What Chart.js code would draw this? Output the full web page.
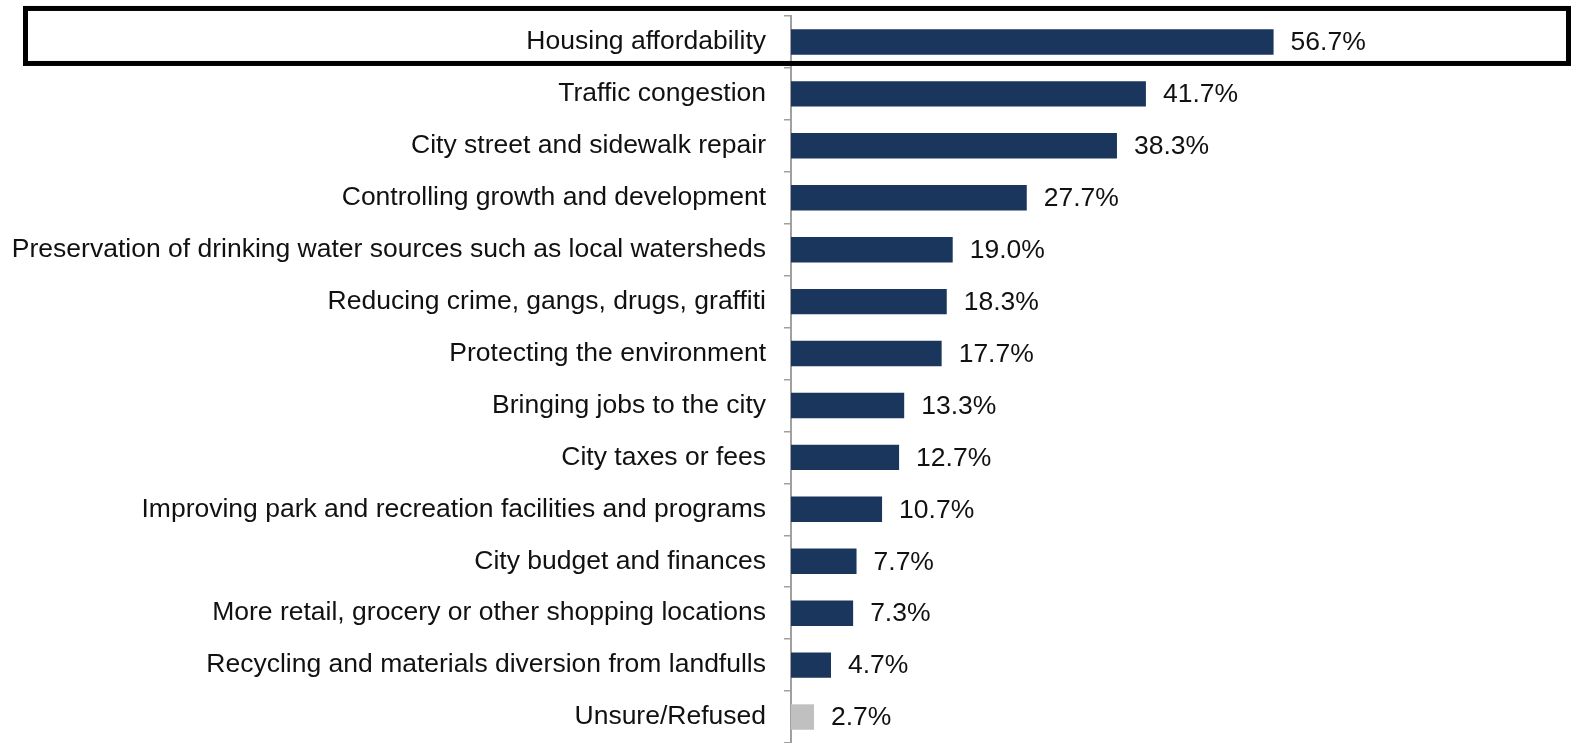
<!DOCTYPE html>
<html>
<head>
<meta charset="utf-8">
<script src="https://cdn.jsdelivr.net/npm/chart.js@4"></script>
<style>
  html, body { margin: 0; padding: 0; background: #fff; }
  #wrap { width: 1575px; height: 743px; }
</style>
</head>
<body>
<div id="wrap"><canvas id="issues"></canvas></div>
<script>
const categories = [
  'Housing affordability',
  'Traffic congestion',
  'City street and sidewalk repair',
  'Controlling growth and development',
  'Preservation of drinking water sources such as local watersheds',
  'Reducing crime, gangs, drugs, graffiti',
  'Protecting the environment',
  'Bringing jobs to the city',
  'City taxes or fees',
  'Improving park and recreation facilities and programs',
  'City budget and finances',
  'More retail, grocery or other shopping locations',
  'Recycling and materials diversion from landfulls',
  'Unsure/Refused'
]
const percents = [56.7, 41.7, 38.3, 27.7, 19.0, 18.3, 17.7, 13.3, 12.7, 10.7, 7.7, 7.3, 4.7, 2.7]

const navy = '#1b365d'
const grey = '#c0c0c0'
const fontFamily = 'Arial, "Liberation Sans", sans-serif'
const fontSize = 26.5

// draws "xx.x%" to the right of each bar
const valueLabels = {
  id: 'valueLabels',
  afterDatasetsDraw(chart) {
    const ctx = chart.ctx
    const meta = chart.getDatasetMeta(0)
    ctx.save()
    ctx.font = `${fontSize}px ${fontFamily}`
    ctx.fillStyle = '#111'
    ctx.textAlign = 'left'
    ctx.textBaseline = 'middle'
    meta.data.forEach((bar, i) => {
      const v = chart.data.datasets[0].data[i]
      ctx.fillText(v.toFixed(1) + '%', bar.x + 17, bar.y + 1)
    })
    ctx.restore()
  }
}

// black box around the top item
const highlight = {
  id: 'highlight',
  afterDraw(chart) {
    const ctx = chart.ctx
    const y0 = chart.scales.y.getPixelForValue(0)
    ctx.save()
    ctx.strokeStyle = '#000'
    ctx.lineWidth = 5
    ctx.strokeRect(25.5, y0 - 33.5, 1543, 55)
    ctx.restore()
  }
}

function initChart() {
  const ctx = document.getElementById('issues').getContext('2d')

  const chart = new Chart(ctx, {
    type: 'bar',
    data: {
      labels: categories,
      datasets: [{
        data: percents,
        backgroundColor: percents.map((v, i) => i === percents.length - 1 ? grey : navy),
        borderWidth: 0,
        categoryPercentage: 1,
        barPercentage: 0.49
      }]
    },
    options: {
      indexAxis: 'y',
      responsive: true,
      maintainAspectRatio: false,
      animation: false,
      layout: {
        padding: { top: 16, right: 18, bottom: 0, left: 0 }
      },
      plugins: {
        legend: { display: false },
        tooltip: { enabled: false }
      },
      scales: {
        x: {
          display: false,
          min: 0,
          max: 90
        },
        y: {
          afterFit: (scale) => {
            scale.width = 791
            scale.paddingTop = 0
            scale.paddingBottom = 0
          },
          grid: {
            offset: true,
            drawOnChartArea: false,
            drawTicks: true,
            tickLength: 7,
            color: '#a0a0a0',
            lineWidth: 1.5
          },
          border: { color: '#a0a0a0', width: 2 },
          ticks: {
            padding: 18,
            color: '#111',
            font: { family: fontFamily, size: fontSize },
            autoSkip: false
          }
        }
      }
    },
    plugins: [valueLabels, highlight]
  })

  return chart
}

initChart()
</script>
</body>
</html>
